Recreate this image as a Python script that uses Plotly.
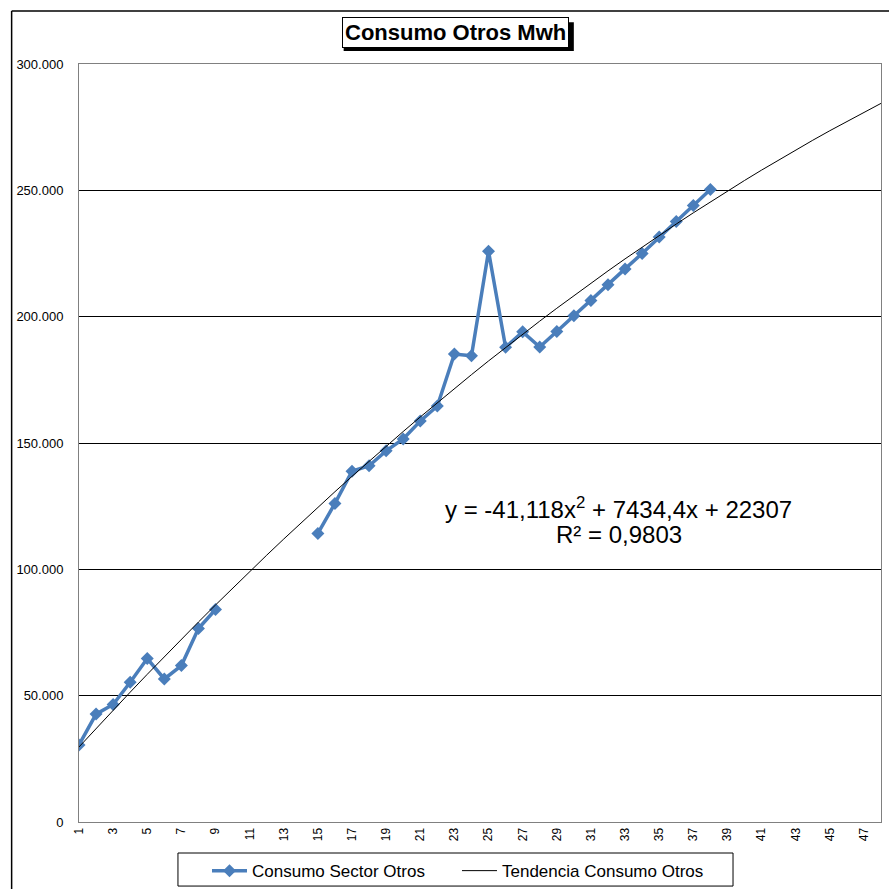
import numpy as np
import plotly.graph_objects as go

# datos (Mwh), None = sin dato
periodo = list(range(1, 39))
consumo = [30500, 42700, 46500, 55300, 64700, 56600, 61900, 76600, 84100,
           None, None, None, None, None,
           114200, 126100, 138800, 141000, 146900, 151600, 158700, 164600,
           185200, 184500, 225900, 187900, 194000, 188000, 194100, 200400,
           206400, 212600, 218900, 225000, 231500, 237700, 244000, 250300]

# coeficientes de la linea de tendencia (polinomica, grado 2)
coef_a, coef_b, coef_c = -41.118, 7434.4, 22307
x_tend = np.arange(1, 49)
y_tend = coef_a * x_tend**2 + coef_b * x_tend + coef_c

y_ticks = [0, 50000, 100000, 150000, 200000, 250000, 300000]
x_ticks = list(range(1, 48, 2))

azul = "#4A7EBB"
fuente = "Liberation Sans, Arial, sans-serif"

fig = go.Figure()
fig.add_trace(go.Scatter(x=periodo, y=consumo, mode="lines+markers",
                         name="Consumo Sector Otros", connectgaps=False,
                         line=dict(color=azul, width=3.5),
                         marker=dict(symbol="diamond", size=10, color=azul)))
fig.add_trace(go.Scatter(x=x_tend, y=y_tend, mode="lines",
                         name="Tendencia Consumo Otros",
                         line=dict(color="black", width=1)))

# sombra del titulo
fig.add_shape(type="rect", xref="paper", yref="paper", x0=0.330, x1=0.617,
              y0=1.017, y1=1.055, fillcolor="black", line=dict(width=0))
fig.add_annotation(text="<b>Consumo Otros Mwh</b>", xref="paper", yref="paper",
                   x=0.469, y=1.042, xanchor="center", yanchor="middle",
                   showarrow=False,
                   font=dict(family=fuente, size=22, color="black"),
                   bgcolor="white", bordercolor="black", borderwidth=1, borderpad=2)

fig.add_annotation(text="y = -41,118x<sup>2</sup> + 7434,4x + 22307",
                   xref="paper", yref="paper", x=0.673, y=0.414,
                   xanchor="center", yanchor="middle", showarrow=False,
                   font=dict(family=fuente, size=24, color="black"))
fig.add_annotation(text="R² = 0,9803",
                   xref="paper", yref="paper", x=0.673, y=0.379,
                   xanchor="center", yanchor="middle", showarrow=False,
                   font=dict(family=fuente, size=24, color="black"))

# borde exterior del grafico (recortado)
fig.add_shape(type="line", xref="paper", yref="paper", x0=-0.084, x1=-0.084,
              y0=1.07, y1=-0.2, line=dict(color="black", width=1.5))
fig.add_shape(type="line", xref="paper", yref="paper", x0=-0.084, x1=1.1,
              y0=1.07, y1=1.07, line=dict(color="black", width=1.5))
# marco de la leyenda
fig.add_shape(type="rect", xref="paper", yref="paper", x0=0.1234, x1=0.8155,
              y0=-0.0845, y1=-0.0409, line=dict(color="black", width=1))

fig.update_layout(
    width=889, height=889,
    margin=dict(l=79, r=8, t=64, b=67, autoexpand=False),
    paper_bgcolor="white", plot_bgcolor="white",
    separators=",.",
    font=dict(family=fuente, color="black"),
    showlegend=True,
    legend=dict(orientation="h", x=0.1596, y=-0.041, xanchor="left", yanchor="top",
                borderwidth=0, bgcolor="rgba(0,0,0,0)",
                font=dict(family=fuente, size=17), itemwidth=35,
                entrywidth=200, entrywidthmode="pixels"),
)
fig.update_xaxes(range=[1, 48], tickvals=x_ticks, tickangle=-90,
                 tickfont=dict(size=12), showgrid=False, zeroline=False,
                 showline=True, linecolor="#808080", mirror=True, ticks="")
fig.update_yaxes(range=[0, 300000], tickvals=y_ticks, tickformat=",d",
                 tickfont=dict(size=13), showgrid=True, gridcolor="black", gridwidth=1,
                 zeroline=True, zerolinecolor="black", zerolinewidth=1.5,
                 showline=True, linecolor="#808080", mirror=True, ticks="",
                 ticklabelstandoff=12)

fig.write_html("out.html", config={"displayModeBar": False},
               post_script="document.body.style.margin='0px';")
